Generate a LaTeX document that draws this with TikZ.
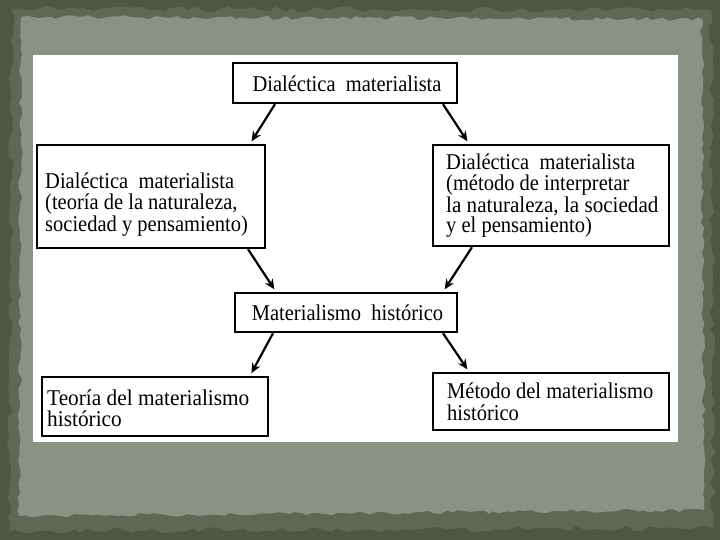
\documentclass[tikz,border=0pt]{standalone}
\usepackage{fontspec}
\usepackage{graphicx}
\setmainfont{Liberation Serif}
\usetikzlibrary{arrows.meta,decorations.pathmorphing,calc}
\definecolor{outerbg}{HTML}{4E5746}
\definecolor{halo}{HTML}{5F6857}
\definecolor{panel}{HTML}{8A9283}
\newcommand{\scantext}[1]{\scalebox{1}[1.1]{#1}}
\begin{document}
\begin{tikzpicture}[x=1pt,y=-1pt,
  box/.style={draw=black, line width=2.4pt, fill=white, inner sep=0pt, rectangle},
  txt/.style={anchor=base west, inner sep=0pt, text height=13pt, text depth=3pt, font=\fontsize{20.5}{21}\selectfont},
  ctxt/.style={anchor=base, inner sep=0pt, text height=13pt, text depth=3pt, font=\fontsize{20.5}{21}\selectfont},
  arr/.style={-{Stealth[length=10pt,width=9pt]}, line width=2.2pt, shorten >=3pt}]
\pgfmathsetseed{7}
\useasboundingbox (0,0) rectangle (720,540);
\fill[outerbg] (0,0) rectangle (720,540);
\fill[halo, decorate, decoration={random steps,segment length=8pt,amplitude=3pt}] (12,9) -- (711,10) -- (713,528) -- (9,531) -- cycle;
\fill[panel, decorate, decoration={random steps,segment length=6pt,amplitude=2pt}] (21,17) -- (702,19) -- (704,510) -- (19,516) -- cycle;
\fill[white] (33,55) rectangle (678,442);

\node[box, minimum width=224pt, minimum height=40pt] (top) at (345,83) {};
\node[box, minimum width=228pt, minimum height=103pt] (lm) at (151,196.5) {};
\node[box, minimum width=236pt, minimum height=101pt] (rm) at (551,195.5) {};
\node[box, minimum width=222pt, minimum height=39pt] (mid) at (346,312.5) {};
\node[box, minimum width=226pt, minimum height=59pt] (bl) at (155,406.5) {};
\node[box, minimum width=236pt, minimum height=57pt] (br) at (551,401.5) {};

\node[ctxt] (t1) at (347,92) {\scantext{Dialéctica\ \ materialista}};

\node[txt] (l1) at (45,189) {\scantext{Dialéctica\ \ materialista}};
\node[txt] (l2) at (45,210) {\scantext{(teoría de la naturaleza,}};
\node[txt] (l3) at (45,231) {\scantext{sociedad y pensamiento)}};

\node[txt] (r1) at (446,170) {\scantext{Dialéctica\ \ materialista}};
\node[txt] (r2) at (446,191) {\scantext{(método de interpretar}};
\node[txt] (r3) at (446,212) {\scalebox{1.03}[1.1]{la naturaleza, la sociedad}};
\node[txt] (r4) at (446,233) {\scantext{y el pensamiento)}};

\node[ctxt] (m1) at (347.5,320) {\scantext{Materialismo\ \ histórico}};

\node[txt] (b1) at (47,405) {\scalebox{1.04}[1.1]{Teoría del materialismo}};
\node[txt] (b2) at (47,426) {\scalebox{1.04}[1.1]{histórico}};

\node[txt] (c1) at (447,398) {\scantext{Método del materialismo}};
\node[txt] (c2) at (447,420) {\scantext{histórico}};

\draw[arr] ([xshift=-70pt]top.south) -- ([xshift=99pt]lm.north);
\draw[arr] ([xshift=98pt]top.south) -- ([xshift=-82pt]rm.north);
\draw[arr] ([xshift=97pt]lm.south) -- ([xshift=-70pt]mid.north);
\draw[arr] ([xshift=-79pt]rm.south) -- ([xshift=97pt]mid.north);
\draw[arr] ([xshift=-73pt]mid.south) -- ([xshift=95pt]bl.north);
\draw[arr] ([xshift=97pt]mid.south) -- ([xshift=-82pt]br.north);
\end{tikzpicture}
\end{document}
